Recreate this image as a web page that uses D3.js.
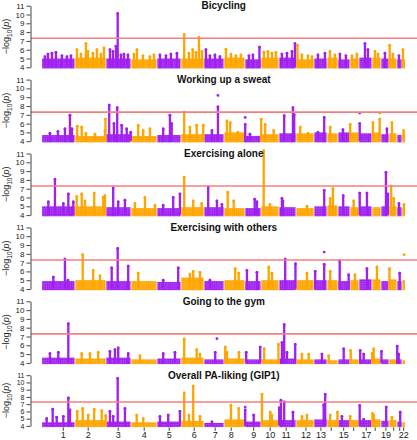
<!DOCTYPE html>
<html><head><meta charset="utf-8">
<script src="https://cdn.jsdelivr.net/npm/d3@7"></script>
<style>body{margin:0;background:#fff}svg{display:block}text{font-family:"Liberation Sans",Arial,sans-serif}</style>
</head><body>
<script>
// ---- data ----
const chromosomes = d3.range(1, 23);
const chrSpan = [266,248,200,208,192,184,160,168,128,144,136,144,104,88,96,72,104,72,64,64,40,28];
// axis tick position inside each chromosome (midpoint of plotted SNPs)
const chrTick = [173,106,98,106,98,106,90,58,70,74,58,80,56,34,46,30,58,26,40,38,22,14];
const chrLabels = ["1","2","3","4","5","6","7","8","9","10","11","12","13","","15","","17","","19","","","22"];
const yTicks = [4,5,6,7,8,9,10,11];
const gwThreshold = 7.3;
const titles = ["Bicycling","Working up a sweat","Exercising alone","Exercising with others","Going to the gym","Overall PA-liking (GIP1)"];

// dense band top per chromosome
const band1 = [5.0,5.1,5.0,4.9,5.0,5.0,5.0,5.1,4.9,5.1,5.1,4.9,5.0,5.1,4.9,5.0,5.1,5.1,5.0,5.0,4.9,4.9];
const band2 = [4.7,4.6,4.8,4.6,4.7,4.8,4.8,5.0,4.6,4.8,4.9,4.9,5.0,4.9,5.0,5.0,4.9,5.0,4.8,4.9,4.7,4.8];
const band3 = [5.0,5.0,4.9,4.8,4.8,4.9,4.9,4.8,4.8,5.0,4.9,4.8,5.0,5.1,5.0,4.9,5.0,4.9,5.0,5.0,4.9,4.8];
const band4 = [4.9,5.0,4.9,4.9,4.8,5.3,4.9,5.0,4.9,5.0,5.0,5.0,5.0,5.0,4.9,5.0,5.1,5.1,4.9,5.1,4.9,5.0];
const band5 = [4.6,4.5,4.6,4.4,4.5,4.6,4.4,4.5,4.4,4.4,4.5,4.4,4.4,4.3,4.4,4.4,4.4,4.5,4.4,4.4,4.4,4.3];
const band6 = [4.5,4.8,4.6,4.5,4.6,4.7,4.4,4.9,4.6,4.8,4.8,4.8,4.9,4.8,4.8,4.8,4.8,4.9,4.7,4.8,4.6,4.5];

// loci: [chromosome, position, top -log10(p)]
const peaks1 = [[1,26,5.2],[1,50,5.5],[1,82,5.6],[1,114,5.7],[1,162,5.3],[1,202,5.2],[1,234,5.3],
 [2,16,6.0],[2,48,5.5],[2,88,6.7],[2,104,5.8],[2,144,5.6],[2,176,6.0],[2,208,5.5],[2,232,6.2],
 [3,32,6.0],[3,56,5.8],[3,80,6.4],[3,94,10.1],[3,120,5.4],[3,144,5.5],[3,176,5.4],
 [4,24,5.5],[4,48,6.0],[4,96,5.3],[4,152,5.2],[4,184,5.4],
 [5,24,5.4],[5,72,5.3],[5,112,5.5],[5,160,5.6],
 [6,26,7.7],[6,64,5.6],[6,94,6.0],[6,120,5.7],[6,144,7.4],[6,168,5.8],
 [7,16,6.0],[7,48,5.3],[7,88,5.4],[7,128,5.2],
 [8,16,6.05],[8,56,5.5],[8,96,5.3],[8,136,5.4],
 [9,32,5.3],[9,64,5.4],[9,116,6.3],
 [10,24,5.7],[10,56,5.8],[10,88,5.6],[10,120,5.7],
 [11,24,5.5],[11,64,5.6],[11,104,5.8],[11,128,6.7],
 [12,12,6.5],[12,48,5.4],[12,96,5.3],[12,128,5.2],
 [13,32,5.4],[13,88,5.6],[14,24,5.8],[14,64,5.4],[15,16,5.5],[15,64,5.3],
 [16,16,5.3],[16,56,5.5],[17,48,6.7],[17,72,6.0],[18,24,5.8],[18,48,5.5],
 [19,32,5.6],[20,6,6.5],[20,32,5.5],[21,16,5.3],[22,8,6.0]];
const spots1 = [];

const peaks2 = [[1,66,4.9],[1,130,5.1],[1,186,5.4],[1,226,6.95],[1,242,5.4],
 [2,18,5.7],[2,54,5.6],[2,88,4.9],[2,160,4.8],[2,240,5.2],[2,244,6.5],
 [3,26,8.1],[3,64,6.0],[3,90,7.8],[3,126,5.8],[3,166,5.4],[3,198,5.0],
 [4,58,5.8],[4,98,5.2],[4,152,5.4],
 [5,50,5.4],[5,104,6.95],[5,118,6.0],
 [6,26,7.3],[6,72,5.6],[6,126,5.8],[6,178,5.8],
 [7,64,5.2],[7,112,7.9],
 [8,24,6.3],[8,50,6.1],[8,112,5.0],
 [9,2,5.9],[9,40,4.8],
 [10,2,6.5],[10,34,5.9],[10,102,5.2],
 [11,42,6.9],[11,112,7.8],[11,122,7.0],
 [12,34,5.6],[12,96,4.9],[13,32,5.0],[13,82,6.7],[14,26,5.6],[15,40,5.3],[16,2,5.9],
 [17,6,6.0],[18,8,6.1],[18,62,6.5],[19,48,5.4],[20,24,6.1],[22,14,5.2]];
const spots2 = [[7,112,9.2],[9,2,6.7],[17,6,7.2],[18,62,7.2]];

const peaks3 = [[1,53,5.5],[1,106,8.05],[1,173,5.3],[1,213,6.4],[1,253,5.5],
 [2,14,6.1],[2,54,6.4],[2,80,5.6],[2,154,6.5],[2,226,6.0],[2,240,6.2],
 [3,58,7.1],[3,98,5.5],[3,152,5.7],
 [4,32,5.3],[4,112,6.0],[4,192,5.1],
 [5,50,5.1],[5,130,6.0],[5,184,6.4],
 [6,26,8.3],[6,98,5.6],[6,166,5.3],
 [7,34,7.2],[7,104,5.6],[7,144,5.2],
 [8,30,6.6],[8,78,5.6],
 [9,78,5.8],[9,96,5.5],
 [10,22,11.3],[10,72,5.2],
 [11,24,5.9],[11,32,5.6],[12,88,5.0],[13,82,6.8],[14,26,5.9],[14,48,7.0],[15,42,6.2],[16,30,5.6],
 [17,6,6.5],[17,64,6.5],[19,40,8.85],[19,56,6.4],[20,18,7.3],[20,38,5.9],[21,16,5.3],[22,16,5.2]];
const spots3 = [];

const peaks4 = [[1,93,5.35],[1,186,7.4],[1,210,5.0],
 [2,62,7.9],[2,146,6.1],[2,200,5.5],
 [3,46,6.4],[3,94,8.6],[3,178,6.6],
 [4,58,5.8],[5,50,5.0],[5,170,6.4],
 [6,72,5.7],[6,98,6.0],[6,152,5.9],[7,48,5.0],
 [8,90,6.3],[8,118,5.8],[9,16,6.1],[9,96,5.9],
 [10,62,6.5],[10,88,5.8],[11,50,7.4],[11,132,6.85],
 [12,88,5.8],[13,10,6.0],[13,82,6.8],[14,26,6.0],[15,14,7.2],[15,86,5.6],
 [16,40,5.6],[17,64,6.3],[18,40,6.5],[20,4,6.3],[21,22,5.8]];
const spots4 = [[13,82,8.2],[22,18,7.9]];

const peaks5 = [[1,66,5.05],[1,133,5.2],[1,213,8.45],
 [2,54,5.05],[2,120,5.05],[2,186,5.2],
 [3,32,5.3],[3,72,5.5],[3,98,5.7],[3,178,5.05],
 [4,72,4.8],[5,50,5.05],[5,144,5.2],
 [6,26,6.7],[6,126,5.5],[6,152,5.0],
 [7,90,5.2],[8,10,5.8],[8,24,5.2],[8,120,5.2],[9,10,5.2],[9,122,5.8],
 [10,26,5.6],[10,140,6.1],
 [11,24,6.3],[11,42,8.35],[11,64,5.2],[11,130,6.1],
 [12,48,5.0],[12,102,5.0],[13,64,5.0],[14,14,4.8],[15,46,5.6],[16,6,5.4],
 [17,10,5.4],[17,38,5.0],[18,2,5.1],[18,14,5.6],[19,4,5.3],[21,2,5.9],[21,14,5.0]];
const spots5 = [[7,104,6.75]];

const peaks6 = [[1,40,5.0],[1,88,6.3],[1,120,5.2],[1,173,5.3],[1,213,7.85],[1,226,6.2],
 [2,18,6.0],[2,62,6.4],[2,106,5.5],[2,154,6.3],[2,214,6.1],[2,246,5.4],
 [3,32,6.0],[3,58,5.3],[3,94,10.55],[3,152,6.4],
 [4,46,5.5],[4,98,5.0],
 [5,24,5.3],[5,90,5.5],[5,184,6.0],
 [6,26,8.55],[6,64,5.5],[6,98,9.5],[6,152,5.3],
 [7,64,4.55],[8,56,6.85],[8,118,6.4],
 [9,2,6.2],[9,70,5.5],
 [10,8,8.35],[10,74,5.9],[10,88,5.5],
 [11,2,6.5],[11,16,7.55],[11,42,7.3],[11,112,5.9],
 [12,48,5.3],[12,88,5.5],[13,78,6.9],[13,90,8.35],
 [14,26,5.5],[14,84,5.9],[15,32,5.3],[16,2,5.3],
 [17,6,6.8],[17,38,4.9],[18,4,5.7],[18,14,5.5],[19,42,6.6],[20,24,5.2],[21,26,5.9]];
const spots6 = [[9,2,6.6]];

// ---- drawing ----
const W = 417, H = 440;
const svg = d3.select("body").append("svg").attr("width", W).attr("height", H);
const purple = "#A020F0", orange = "#FFA500";
const colorOf = c => (c % 2 ? purple : orange);

// dotted fill patterns for the dense SNP band
const defs = svg.append("defs");
[["dotP", purple], ["dotO", orange]].forEach(([id, col]) => {
  const pat = defs.append("pattern").attr("id", id).attr("patternUnits", "userSpaceOnUse")
    .attr("width", 2.2).attr("height", 2.2);
  pat.append("rect").attr("width", 2.2).attr("height", 2.2).attr("fill", col).attr("opacity", 0.55);
  pat.append("circle").attr("cx", 1.1).attr("cy", 1.1).attr("r", 1.15).attr("fill", col);
});
const patOf = c => (c % 2 ? "url(#dotP)" : "url(#dotO)");

const starts = [0, ...d3.cumsum(chrSpan)].slice(0, 22);
const total = d3.sum(chrSpan);
const x = d3.scaleLinear().domain([0, total]).range([41.7, 405.45]);
const gx = (c, p) => x(starts[c - 1] + p);

const panels = [
  {title: titles[0], band: band1, peaks: peaks1, spots: spots1},
  {title: titles[1], band: band2, peaks: peaks2, spots: spots2},
  {title: titles[2], band: band3, peaks: peaks3, spots: spots3},
  {title: titles[3], band: band4, peaks: peaks4, spots: spots4},
  {title: titles[4], band: band5, peaks: peaks5, spots: spots5},
  {title: titles[5], band: band6, peaks: peaks6, spots: spots6}
];

const axisX = 30.5, plotRight = 417;
panels.forEach((p, i) => {
  const top = 5.7 + 73.9 * i;
  const h = i === 5 ? 50.7 : 61.6;
  const y = d3.scaleLinear().domain([4, 11]).range([top + h, top]);
  const g = svg.append("g");

  // dense band of SNPs per chromosome
  g.selectAll("rect.band").data(p.band).join("rect")
    .attr("class", "band")
    .attr("x", (d, k) => x(starts[k]) + 0.4)
    .attr("width", (d, k) => x(starts[k] + chrSpan[k]) - x(starts[k]) - 0.8)
    .attr("y", d => y(d))
    .attr("height", d => y(4) - y(d) + 1.2)
    .attr("fill", (d, k) => patOf(k + 1));

  // loci: dotted columns of SNPs
  g.selectAll("line.peak").data(p.peaks).join("line")
    .attr("class", "peak")
    .attr("x1", d => gx(d[0], d[1])).attr("x2", d => gx(d[0], d[1]))
    .attr("y1", d => y(d[2])).attr("y2", y(4))
    .attr("stroke", d => colorOf(d[0]))
    .attr("stroke-width", 2.6)
    .attr("stroke-linecap", "round")
    .attr("stroke-dasharray", "0.01 1.5");
  g.selectAll("circle.top").data(p.peaks.concat(p.spots)).join("circle")
    .attr("class", "top")
    .attr("cx", d => gx(d[0], d[1]))
    .attr("cy", d => y(d[2]))
    .attr("r", 1.4)
    .attr("fill", d => colorOf(d[0]));

  // genome-wide significance line
  g.append("line")
    .attr("x1", axisX + 0.5).attr("x2", plotRight)
    .attr("y1", y(gwThreshold)).attr("y2", y(gwThreshold))
    .attr("stroke", "#F47F7F").attr("stroke-width", 1.6);

  // y axis
  const ax = g.append("g").attr("transform", `translate(${axisX},0)`)
    .call(d3.axisLeft(y).tickValues(yTicks).tickFormat(d3.format("d"))
      .tickSize(4).tickSizeOuter(0).tickPadding(2));
  ax.select(".domain").attr("stroke", "#444");
  ax.selectAll(".tick line").attr("stroke", "#444");
  ax.selectAll("text").attr("font-size", i === 5 ? 7 : 8).attr("fill", "#222")
    .attr("font-family", "Liberation Sans, Arial, sans-serif");

  // y label
  const yl = g.append("text")
    .attr("transform", `translate(9,${top + h / 2}) rotate(-90)`)
    .attr("text-anchor", "middle").attr("font-size", 9).attr("fill", "#222");
  yl.append("tspan").text("\u2212log");
  yl.append("tspan").attr("font-size", 6.5).attr("dy", 2.5).text("10");
  yl.append("tspan").attr("dy", -2.5).text("(");
  yl.append("tspan").attr("font-style", "italic").text("p");
  yl.append("tspan").text(")");

  // title
  g.append("text").attr("x", (axisX + plotRight) / 2).attr("y", top + 3.5)
    .attr("text-anchor", "middle").attr("font-size", 10).attr("font-weight", "bold")
    .attr("fill", "#111").text(p.title);

  // chromosome axis on the last panel
  if (i === 5) {
    const bottom = top + h;
    const tg = g.append("g");
    tg.selectAll("line").data(chromosomes).join("line")
      .attr("x1", c => gx(c, chrTick[c - 1])).attr("x2", c => gx(c, chrTick[c - 1]))
      .attr("y1", bottom + 1.5).attr("y2", bottom + 5)
      .attr("stroke", "#444");
    tg.selectAll("text").data(chromosomes).join("text")
      .attr("x", c => gx(c, chrTick[c - 1])).attr("y", bottom + 12.3)
      .attr("text-anchor", "middle").attr("font-size", 9).attr("fill", "#222")
      .text(c => chrLabels[c - 1]);
  }
});
</script>
</body></html>
